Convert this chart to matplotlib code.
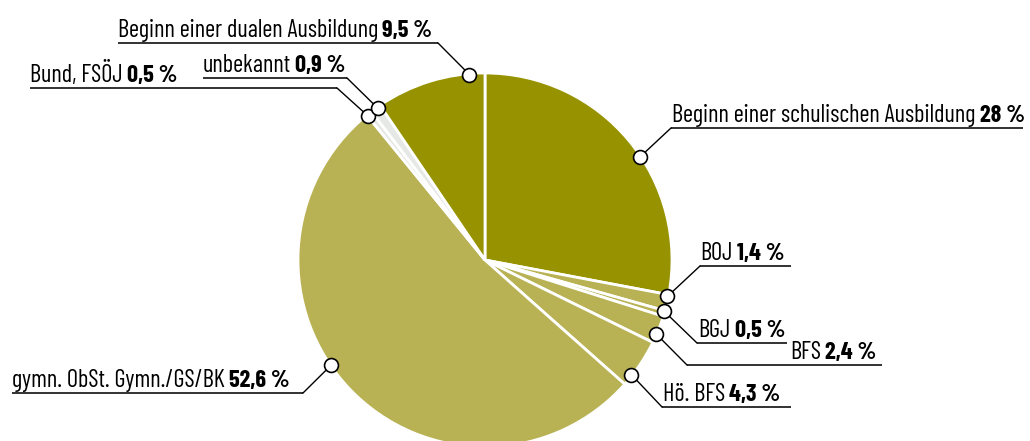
import numpy as np
import matplotlib
matplotlib.use("Agg")
import matplotlib.pyplot as plt

plt.rcParams['font.family'] = ['Barlow Condensed', 'DejaVu Sans']

# slices, clockwise from 12 o'clock
names = ["Beginn einer schulischen Ausbildung", "BOJ", "BGJ", "BFS", "Hö. BFS",
         "gymn. ObSt. Gymn./GS/BK", "Bund, FSÖJ", "unbekannt",
         "Beginn einer dualen Ausbildung"]
shares = [28, 1.4, 0.5, 2.4, 4.3, 52.6, 0.5, 0.9, 9.5]
share_txt = ["28 %", "1,4 %", "0,5 %", "2,4 %", "4,3 %", "52,6 %", "0,5 %", "0,9 %", "9,5 %"]

dark = "#979300"
light = "#b8b254"
grey = "#e6e8e6"
colors = [dark, light, light, light, light, light, grey, grey, dark]

# label layout in pixels: text left x, underline y, underline x0, x1,
# elbow side, marker position within the wedge (0 = start, 1 = end)
layout = [
    (672, 128, 671, 1023, "left", 0.56),
    (700, 266, 700, 791, "left", 0.12),
    (698, 343, 697, 787, "left", 0.10),
    (790, 365, 687, 882, "left", 0.67),
    (663, 407, 662, 791, "left", 0.77),
    (12, 393, 12, 303, "right", 0.55),
    (30, 88, 30, 337, "right", 0.05),
    (203, 78, 203, 347, "right", 0.67),
    (118, 43, 118, 438, "right", 0.86),
]

fig = plt.figure(figsize=(10.30, 4.41), dpi=100)
ax = fig.add_axes([0, 0, 1, 1])

cx, cy, r = 485, 260, 187
wedges, _ = ax.pie(shares, colors=colors, startangle=-90, center=(cx, cy), radius=r,
                   wedgeprops=dict(edgecolor='white', linewidth=2), frame=True)
ax.set_xlim(0, 1030)
ax.set_ylim(441, 0)
ax.axis('off')

fs = 17.5
for w, name, st, (tx, uy, ux0, ux1, side, frac) in zip(wedges, names, share_txt, layout):
    a = np.deg2rad(w.theta1 + frac * (w.theta2 - w.theta1))
    mx = cx + (r - 1) * np.cos(a)
    my = cy + (r - 1) * np.sin(a)
    ex = ux0 if side == "left" else ux1
    ax.plot([ux0, ux1], [uy, uy], color='#222222', lw=1.3, solid_capstyle='butt', zorder=3)
    ax.plot([ex, mx], [uy, my], color='black', lw=1.0, zorder=3)
    ax.plot(mx, my, 'o', ms=10, mfc='white', mec='black', mew=1.2, zorder=4)
    t = ax.text(tx, uy - 6, name, fontsize=fs, ha='left', va='baseline', color='black')
    ax.annotate(st, xy=(1, 0), xycoords=t, xytext=(3, 0), textcoords='offset points',
                fontsize=fs, fontweight='bold', ha='left', va='bottom', color='black')

fig.savefig("out.png", dpi=100)
